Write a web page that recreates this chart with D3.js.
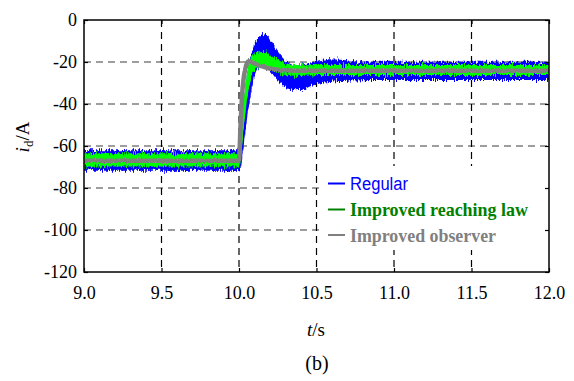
<!DOCTYPE html>
<html>
<head>
<meta charset="utf-8">
<script src="https://cdn.jsdelivr.net/npm/d3@7"></script>
<style>
  body { margin: 0; background: #fff; }
  svg { display: block; }
  .serif { font-family: "Liberation Serif", serif; }
  .sans { font-family: "Liberation Sans", sans-serif; }
</style>
</head>
<body>
<svg id="chart" width="574" height="381"></svg>
<script>
// Axis ticks
const xTicks = [9.0, 9.5, 10.0, 10.5, 11.0, 11.5, 12.0];
const yTicks = [0, -20, -40, -60, -80, -100, -120];

// Legend entries
const seriesNames = ["Regular", "Improved reaching law", "Improved observer"];

// Regular controller: upper / lower envelope of the ripple band [t (s), i_d (A)]
const regularUpper = [
  [9.0, -62], [10.0, -62], [10.006, -58], [10.02, -47], [10.035, -36], [10.05, -27],
  [10.07, -19], [10.09, -13.5], [10.11, -10], [10.135, -7.5], [10.158, -6.7], [10.18, -7.6],
  [10.21, -10.5], [10.245, -14.5], [10.28, -17.8], [10.32, -20.3], [10.36, -21.5], [10.41, -21.2],
  [10.46, -20.2], [10.52, -19.2], [10.58, -18.7], [10.65, -18.9], [10.75, -19.6], [10.9, -19.9],
  [12.0, -19.9]
];
const regularLower = [
  [9.0, -71.8], [10.0, -71.8], [10.012, -70], [10.03, -60], [10.05, -48], [10.07, -38],
  [10.09, -29.5], [10.11, -24.5], [10.135, -22], [10.16, -21.8], [10.19, -23.5], [10.23, -27],
  [10.27, -30.5], [10.31, -32.6], [10.36, -33.4], [10.41, -33.2], [10.46, -31.6], [10.52, -30.2],
  [10.6, -29.3], [10.7, -28.9], [10.85, -28.6], [12.0, -28.6]
];

// Improved reaching law: upper / lower envelope
const reachingUpper = [
  [9.0, -63.5], [10.0, -63.5], [10.006, -59], [10.015, -50], [10.026, -40], [10.04, -31.5],
  [10.06, -22], [10.08, -17.5], [10.1, -16], [10.13, -15.3], [10.16, -15.2], [10.2, -16.3],
  [10.24, -18.3], [10.28, -20.2], [10.33, -21.3], [10.4, -21.6], [10.5, -21.4], [12.0, -21.4]
];
const reachingLower = [
  [9.0, -69.8], [10.0, -69.8], [10.012, -66], [10.025, -56], [10.04, -45], [10.055, -36],
  [10.07, -30], [10.09, -25], [10.12, -22.3], [10.16, -21.8], [10.21, -23], [10.27, -25.2],
  [10.34, -26.4], [10.42, -26.6], [10.55, -26.2], [12.0, -26.2]
];

// Improved observer: current trace
const observerTrace = [
  [9.0, -67], [10.0, -67], [10.004, -62], [10.01, -50], [10.018, -38], [10.028, -29],
  [10.04, -23.5], [10.052, -20.5], [10.062, -19.6], [10.075, -19.8], [10.1, -20.7],
  [10.14, -21.9], [10.19, -23], [10.25, -23.7], [10.32, -24.1], [10.45, -24.2], [12.0, -24.2]
];

const svg = d3.select("#chart");
const plot = { left: 84, top: 20, right: 549, bottom: 272 };

const x = d3.scaleLinear().domain([9, 12]).range([plot.left, plot.right]);
const y = d3.scaleLinear().domain([-120, 0]).range([plot.bottom, plot.top]);

const defs = svg.append("defs");
defs.append("clipPath").attr("id", "plotClip")
  .append("rect")
  .attr("x", plot.left).attr("y", plot.top)
  .attr("width", plot.right - plot.left).attr("height", plot.bottom - plot.top);

// Ripple texture along the current bands (vertical displacement only)
function rippleFilter(id, scale, freq) {
  const f = defs.append("filter").attr("id", id)
    .attr("filterUnits", "userSpaceOnUse")
    .attr("x", plot.left - 10).attr("y", plot.top - 10)
    .attr("width", plot.right - plot.left + 20).attr("height", plot.bottom - plot.top + 20)
    .attr("color-interpolation-filters", "sRGB");
  f.append("feTurbulence").attr("type", "fractalNoise")
    .attr("baseFrequency", freq).attr("numOctaves", 2).attr("seed", 4)
    .attr("result", "noise");
  f.append("feColorMatrix").attr("in", "noise").attr("type", "matrix")
    .attr("values", "0 0 0 0 0.5  0 1 0 0 0  0 0 1 0 0  0 0 0 0 1")
    .attr("result", "map");
  f.append("feDisplacementMap").attr("in", "SourceGraphic").attr("in2", "map")
    .attr("scale", scale).attr("xChannelSelector", "R").attr("yChannelSelector", "G");
}
rippleFilter("rippleWide", 9, "0.9 0.15");
rippleFilter("rippleThin", 3, "0.7 0.12");

// Grid: gray dashed horizontals, black dashed verticals
const grid = svg.append("g");
grid.selectAll("line.h")
  .data(yTicks.filter(d => d < 0 && d > -120))
  .join("line")
  .attr("x1", plot.left).attr("x2", plot.right)
  .attr("y1", d => y(d)).attr("y2", d => y(d))
  .attr("stroke", "#7f7f7f").attr("stroke-width", 1.3)
  .attr("stroke-dasharray", "7,5");
grid.selectAll("line.v")
  .data(xTicks.filter(d => d > 9 && d < 12))
  .join("line")
  .attr("x1", d => x(d)).attr("x2", d => x(d))
  .attr("y1", plot.top).attr("y2", plot.bottom)
  .attr("stroke", "#000").attr("stroke-width", 1.2)
  .attr("stroke-dasharray", "7,5");

// Merge the two envelopes of a band on the union of their sample times
const band = (upper, lower) => {
  const hi = d3.scaleLinear().domain(upper.map(d => d[0])).range(upper.map(d => d[1]));
  const lo = d3.scaleLinear().domain(lower.map(d => d[0])).range(lower.map(d => d[1]));
  const times = Array.from(new Set(upper.map(d => d[0]).concat(lower.map(d => d[0]))))
    .sort((a, b) => a - b);
  return times.map(t => ({ t, hi: hi(t), lo: lo(t) }));
};
const area = d3.area()
  .x(d => x(d.t)).y0(d => y(d.lo)).y1(d => y(d.hi))
  .curve(d3.curveMonotoneX);

const dataG = svg.append("g").attr("clip-path", "url(#plotClip)");
dataG.append("path")
  .datum(band(regularUpper, regularLower))
  .attr("d", area).attr("fill", "#0000ff")
  .attr("filter", "url(#rippleWide)");
dataG.append("path")
  .datum(band(reachingUpper, reachingLower))
  .attr("d", area).attr("fill", "#00ff00")
  .attr("filter", "url(#rippleWide)");
dataG.append("path")
  .datum(observerTrace)
  .attr("d", d3.line().x(d => x(d[0])).y(d => y(d[1])).curve(d3.curveMonotoneX))
  .attr("fill", "none").attr("stroke", "#808080").attr("stroke-width", 4.5)
  .attr("filter", "url(#rippleThin)");

// Legend
const legendColors = ["#0000ff", "#008000", "#808080"];
const legend = svg.append("g");
legend.append("rect")
  .attr("x", 322).attr("y", 166).attr("width", 226).attr("height", 84)
  .attr("fill", "#fff");
const rowLineY = [183.5, 209.5, 235];
const rowWidths = [58, 178, 146];
seriesNames.forEach((name, i) => {
  legend.append("line")
    .attr("x1", 328).attr("x2", 345)
    .attr("y1", rowLineY[i]).attr("y2", rowLineY[i])
    .attr("stroke", legendColors[i]).attr("stroke-width", 2);
  legend.append("text")
    .attr("class", i === 0 ? "sans" : "serif")
    .attr("x", 350).attr("y", rowLineY[i] + 6.5)
    .attr("fill", legendColors[i])
    .style("font-weight", i === 0 ? "normal" : "bold")
    .style("font-size", i === 0 ? "18px" : "19px")
    .attr("textLength", rowWidths[i])
    .attr("lengthAdjust", "spacingAndGlyphs")
    .text(name);
});

// Axes
const fmtX = d3.format(".1f");
const bottomAxis = svg.append("g")
  .attr("transform", `translate(0,${plot.bottom})`)
  .call(d3.axisBottom(x).tickValues(xTicks).tickFormat(fmtX)
    .tickSizeInner(-4).tickSizeOuter(0).tickPadding(14));
const leftAxis = svg.append("g")
  .attr("transform", `translate(${plot.left},0)`)
  .call(d3.axisLeft(y).tickValues(yTicks).tickFormat(d => String(d))
    .tickSizeInner(-4).tickSizeOuter(0).tickPadding(7));
const topAxis = svg.append("g")
  .attr("transform", `translate(0,${plot.top})`)
  .call(d3.axisTop(x).tickValues(xTicks).tickFormat("").tickSizeInner(-4).tickSizeOuter(0));
const rightAxis = svg.append("g")
  .attr("transform", `translate(${plot.right},0)`)
  .call(d3.axisRight(y).tickValues(yTicks).tickFormat("").tickSizeInner(-4).tickSizeOuter(0));

[bottomAxis, leftAxis, topAxis, rightAxis].forEach(g => {
  g.select(".domain").remove();
  g.selectAll(".tick line").attr("stroke", "#000").attr("stroke-width", 1.2);
  g.selectAll("text")
    .attr("class", "serif")
    .style("font-size", "18px")
    .attr("fill", "#000");
});

// Plot frame
svg.append("rect")
  .attr("x", plot.left).attr("y", plot.top)
  .attr("width", plot.right - plot.left).attr("height", plot.bottom - plot.top)
  .attr("fill", "none").attr("stroke", "#000").attr("stroke-width", 1.5);

// Axis titles
const yTitle = svg.append("text")
  .attr("class", "serif")
  .attr("transform", "translate(29,137) rotate(-90)")
  .attr("text-anchor", "middle")
  .style("font-size", "19px");
yTitle.append("tspan").style("font-style", "italic").text("i");
yTitle.append("tspan").style("font-size", "13px").attr("dy", 4).text("d");
yTitle.append("tspan").attr("dy", -4).text("/A");

const xTitle = svg.append("text")
  .attr("class", "serif")
  .attr("x", 316).attr("y", 336)
  .attr("text-anchor", "middle")
  .style("font-size", "19px");
xTitle.append("tspan").style("font-style", "italic").text("t");
xTitle.append("tspan").text("/s");

svg.append("text")
  .attr("class", "serif")
  .attr("x", 317).attr("y", 370)
  .attr("text-anchor", "middle")
  .style("font-size", "20px")
  .text("(b)");
</script>
</body>
</html>
